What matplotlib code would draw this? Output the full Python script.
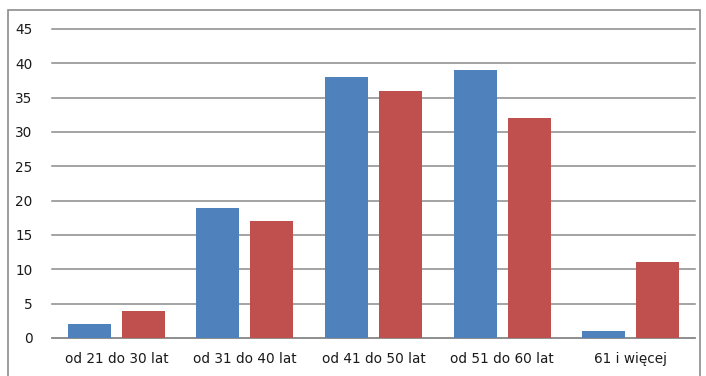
import matplotlib.pyplot as plt
import numpy as np
from matplotlib.patches import Rectangle

# age groups and the two series
categories = ["od 21 do 30 lat", "od 31 do 40 lat", "od 41 do 50 lat",
              "od 51 do 60 lat", "61 i więcej"]
series_a = [2, 19, 38, 39, 1]
series_b = [4, 17, 36, 32, 11]
y_ticks = [0, 5, 10, 15, 20, 25, 30, 35, 40, 45]

fig = plt.figure(figsize=(7.06, 3.76), dpi=100)
ax = fig.add_axes([0.0737, 0.1011, 0.9107, 0.8218])

x = np.arange(len(categories))
w = 0.334
ax.bar(x - 0.21, series_a, width=w, color="#4F81BD", zorder=3)
ax.bar(x + 0.21, series_b, width=w, color="#C0504D", zorder=3)

ax.set_xlim(-0.5, len(categories) - 0.5)
ax.set_ylim(0, 45)
ax.set_yticks(y_ticks)
ax.set_xticks(x)
ax.set_xticklabels(categories)
ax.tick_params(axis="both", length=0, labelsize=9.8, colors="#1a1a1a")
ax.tick_params(axis="y", pad=14)
ax.tick_params(axis="x", pad=10)

# horizontal grid in grey, no frame except the base line
ax.yaxis.grid(True, color="#8a8a8a", linewidth=1.1, zorder=0)
for line in ax.get_ygridlines():
    line.set_clip_on(False)
for side in ["top", "right", "left"]:
    ax.spines[side].set_visible(False)
ax.spines["bottom"].set_color("#8a8a8a")
ax.spines["bottom"].set_linewidth(1.1)

# outer chart border
fig.patches.append(Rectangle((8 / 706, -0.05), 692 / 706, 1.05 - 10 / 376,
                             transform=fig.transFigure, fill=False,
                             edgecolor="#8c8c8c", linewidth=1.2))

plt.savefig("out.png", dpi=100)
plt.close()
